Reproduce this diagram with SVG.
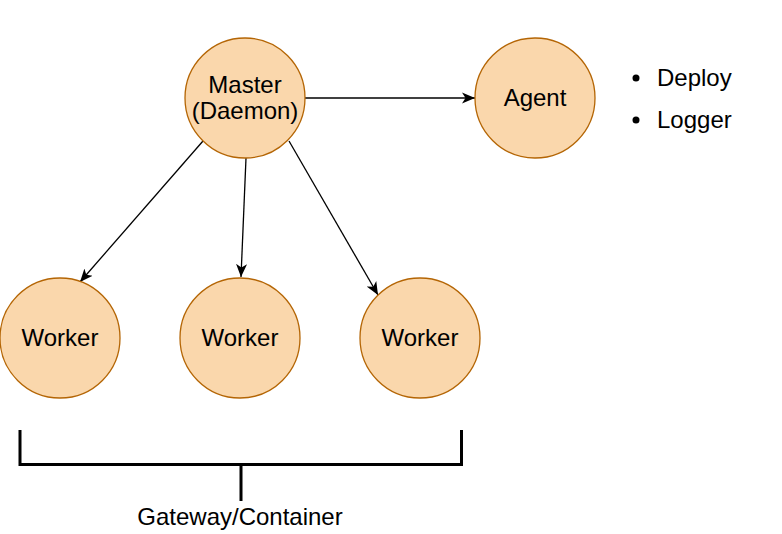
<svg xmlns="http://www.w3.org/2000/svg" width="782" height="534" viewBox="0 0 782 534">
<style>
.node circle{fill:#fad7ac;stroke:#b46504;stroke-width:1.3}
text{font-family:"Liberation Sans",Arial,sans-serif;font-size:24px;fill:#000}
.c{text-anchor:middle}
.edge{stroke:#000;stroke-width:1.3;fill:none;marker-end:url(#arr)}
.br{stroke:#000;stroke-width:3;fill:none}
</style>
<defs>
<marker id="arr" markerUnits="userSpaceOnUse" markerWidth="14" markerHeight="12" refX="13" refY="6" orient="auto">
<path d="M0,0.5 L13,6 L0,11.5 L3.5,6 z" fill="#000"/>
</marker>
</defs>
<g id="connectors">
<line class="edge" x1="305" y1="98" x2="475" y2="98"/>
<line class="edge" x1="203" y1="141" x2="80" y2="282"/>
<line class="edge" x1="246" y1="158" x2="241" y2="277"/>
<line class="edge" x1="289" y1="141" x2="378" y2="295"/>
</g>
<g id="master" class="node">
<circle cx="245" cy="98" r="60"/>
<text class="c" x="245" y="93">Master</text>
<text class="c" x="245" y="119">(Daemon)</text>
</g>
<g id="agent" class="node">
<circle cx="535" cy="98" r="60"/>
<text class="c" x="535" y="106">Agent</text>
</g>
<g id="worker1" class="node">
<circle cx="60" cy="338" r="60"/>
<text class="c" x="60" y="346">Worker</text>
</g>
<g id="worker2" class="node">
<circle cx="240" cy="338" r="60"/>
<text class="c" x="240" y="346">Worker</text>
</g>
<g id="worker3" class="node">
<circle cx="420" cy="338" r="60"/>
<text class="c" x="420" y="346">Worker</text>
</g>
<g id="list">
<circle cx="636" cy="78" r="3.5" fill="#000"/>
<text x="657" y="86">Deploy</text>
<circle cx="636" cy="120" r="3.5" fill="#000"/>
<text x="657" y="128">Logger</text>
</g>
<g id="gateway">
<path class="br" d="M20,430 V464.5 H461.5 V430 M241,464.5 V501"/>
<text class="c" x="240" y="525">Gateway/Container</text>
</g>
</svg>
